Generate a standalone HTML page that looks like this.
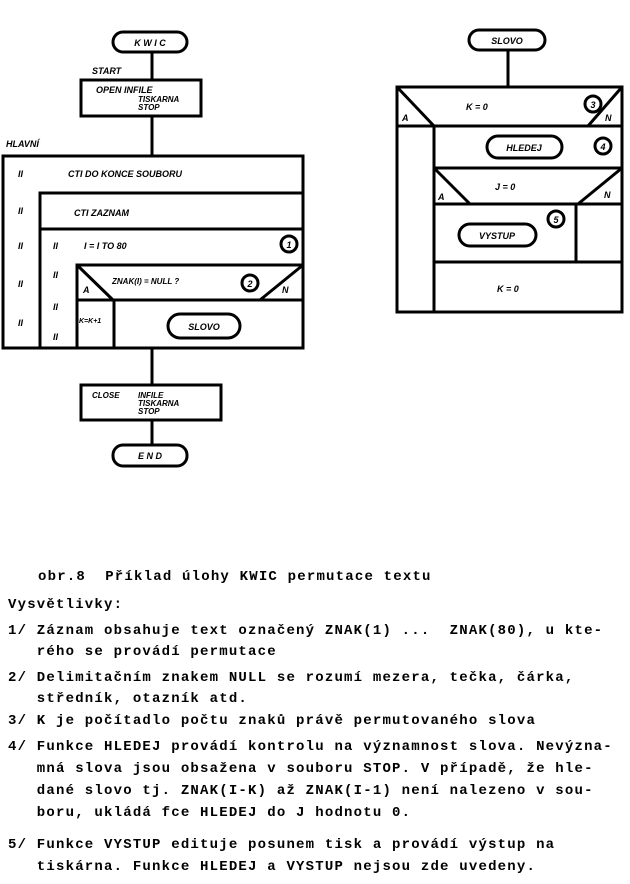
<!DOCTYPE html>
<html><head><meta charset="utf-8"><style>
body{margin:0;background:#fff;width:630px;height:884px;position:relative;overflow:hidden}
svg{position:absolute;left:0;top:0}
.t{position:absolute;font-family:"Liberation Mono",monospace;font-weight:bold;font-size:14px;letter-spacing:1.2px;white-space:pre;color:#000;line-height:16px}
</style></head><body>
<svg width="630" height="560" viewBox="0 0 630 560" font-family="Liberation Sans,sans-serif" font-weight="bold" font-style="italic" font-size="9">
<g stroke="#000" stroke-width="3" fill="none">
<rect x="113" y="32" width="74" height="20" rx="10"/>
<line x1="152" y1="52" x2="152" y2="80"/>
<rect x="81" y="80" width="120" height="36"/>
<line x1="152" y1="116" x2="152" y2="156"/>
<rect x="3" y="156" width="300" height="192"/>
<polyline points="40,348 40,193 303,193"/>
<line x1="40" y1="229" x2="303" y2="229"/>
<polyline points="77,348 77,265 303,265"/>
<line x1="77" y1="300" x2="303" y2="300"/>
<line x1="77" y1="265" x2="113" y2="300"/>
<line x1="303" y1="265" x2="260" y2="300"/>
<line x1="114" y1="300" x2="114" y2="348"/>
<rect x="168" y="314" width="72" height="24" rx="12"/>
<circle cx="289" cy="244" r="8"/>
<circle cx="250" cy="283" r="8"/>
<line x1="152" y1="348" x2="152" y2="385"/>
<rect x="81" y="385" width="140" height="35"/>
<line x1="152" y1="420" x2="152" y2="445"/>
<rect x="113" y="445" width="74" height="21" rx="10"/>

<rect x="469" y="30" width="76" height="20" rx="10"/>
<line x1="508" y1="50" x2="508" y2="87"/>
<rect x="397" y="87" width="225" height="225"/>
<line x1="397" y1="126" x2="622" y2="126"/>
<line x1="397" y1="87" x2="434" y2="126"/>
<line x1="622" y1="87" x2="588" y2="126"/>
<line x1="434" y1="126" x2="434" y2="312"/>
<line x1="434" y1="168" x2="622" y2="168"/>
<line x1="434" y1="204" x2="622" y2="204"/>
<line x1="434" y1="168" x2="470" y2="204"/>
<line x1="622" y1="168" x2="578" y2="204"/>
<line x1="576" y1="204" x2="576" y2="262"/>
<line x1="434" y1="262" x2="622" y2="262"/>
<rect x="487" y="136" width="75" height="22" rx="11"/>
<rect x="459" y="224" width="77" height="22" rx="11"/>
<circle cx="593" cy="104" r="8"/>
<circle cx="603" cy="146" r="8"/>
<circle cx="556" cy="219" r="8"/>
</g>
<g fill="#000">
<text x="150" y="46" text-anchor="middle">K W I C</text>
<text x="92" y="74">START</text>
<text x="96" y="93">OPEN  INFILE</text>
<text x="138" y="102" font-size="8">TISKARNA</text>
<text x="138" y="110" font-size="8">STOP</text>
<text x="6" y="147">HLAVNÍ</text>
<text x="18" y="177">II</text><text x="68" y="177">CTI  DO  KONCE  SOUBORU</text>
<text x="18" y="214">II</text><text x="74" y="216">CTI   ZAZNAM</text>
<text x="18" y="249">II</text><text x="53" y="249">II</text><text x="84" y="249">I = I        TO    80</text>
<text x="18" y="287">II</text><text x="53" y="278">II</text><text x="112" y="284" font-size="8">ZNAK(I) = NULL  ?</text>
<text x="83" y="293">A</text><text x="282" y="293">N</text>
<text x="18" y="326">II</text><text x="53" y="310">II</text><text x="53" y="340">II</text>
<text x="79" y="323" font-size="7">K=K+1</text>
<text x="204" y="330" text-anchor="middle">SLOVO</text>
<text x="250" y="287" text-anchor="middle">2</text>
<text x="289" y="248" text-anchor="middle">1</text>
<text x="92" y="398" font-size="8">CLOSE</text><text x="138" y="398" font-size="8">INFILE</text>
<text x="138" y="406" font-size="8">TISKARNA</text><text x="138" y="414" font-size="8">STOP</text>
<text x="150" y="459" text-anchor="middle">E N D</text>

<text x="507" y="44" text-anchor="middle">SLOVO</text>
<text x="466" y="110">K  =  0</text>
<text x="402" y="121">A</text><text x="605" y="121">N</text>
<text x="524" y="151" text-anchor="middle">HLEDEJ</text>
<text x="495" y="190">J  =  0</text>
<text x="438" y="200">A</text><text x="604" y="198">N</text>
<text x="497" y="239" text-anchor="middle">VYSTUP</text>
<text x="497" y="292">K  =  0</text>
<text x="593" y="108" text-anchor="middle">3</text>
<text x="603" y="150" text-anchor="middle">4</text>
<text x="556" y="223" text-anchor="middle">5</text>
</g>
</svg>
<div class="t" style="left:38px;top:569px">obr.8  Příklad úlohy KWIC permutace textu</div>
<div class="t" style="left:8px;top:597px">Vysvětlivky:</div>
<div class="t" style="left:8px;top:623px">1/ Záznam obsahuje text označený ZNAK(1) ...  ZNAK(80), u kte-</div>
<div class="t" style="left:8px;top:644px">   rého se provádí permutace</div>
<div class="t" style="left:8px;top:670px">2/ Delimitačním znakem NULL se rozumí mezera, tečka, čárka,</div>
<div class="t" style="left:8px;top:691px">   středník, otazník atd.</div>
<div class="t" style="left:8px;top:713px">3/ K je počítadlo počtu znaků právě permutovaného slova</div>
<div class="t" style="left:8px;top:739px">4/ Funkce HLEDEJ provádí kontrolu na významnost slova. Nevýzna-</div>
<div class="t" style="left:8px;top:761px">   mná slova jsou obsažena v souboru STOP. V případě, že hle-</div>
<div class="t" style="left:8px;top:783px">   dané slovo tj. ZNAK(I-K) až ZNAK(I-1) není nalezeno v sou-</div>
<div class="t" style="left:8px;top:805px">   boru, ukládá fce HLEDEJ do J hodnotu 0.</div>
<div class="t" style="left:8px;top:837px">5/ Funkce VYSTUP edituje posunem tisk a provádí výstup na</div>
<div class="t" style="left:8px;top:859px">   tiskárna. Funkce HLEDEJ a VYSTUP nejsou zde uvedeny.</div>
</body></html>
